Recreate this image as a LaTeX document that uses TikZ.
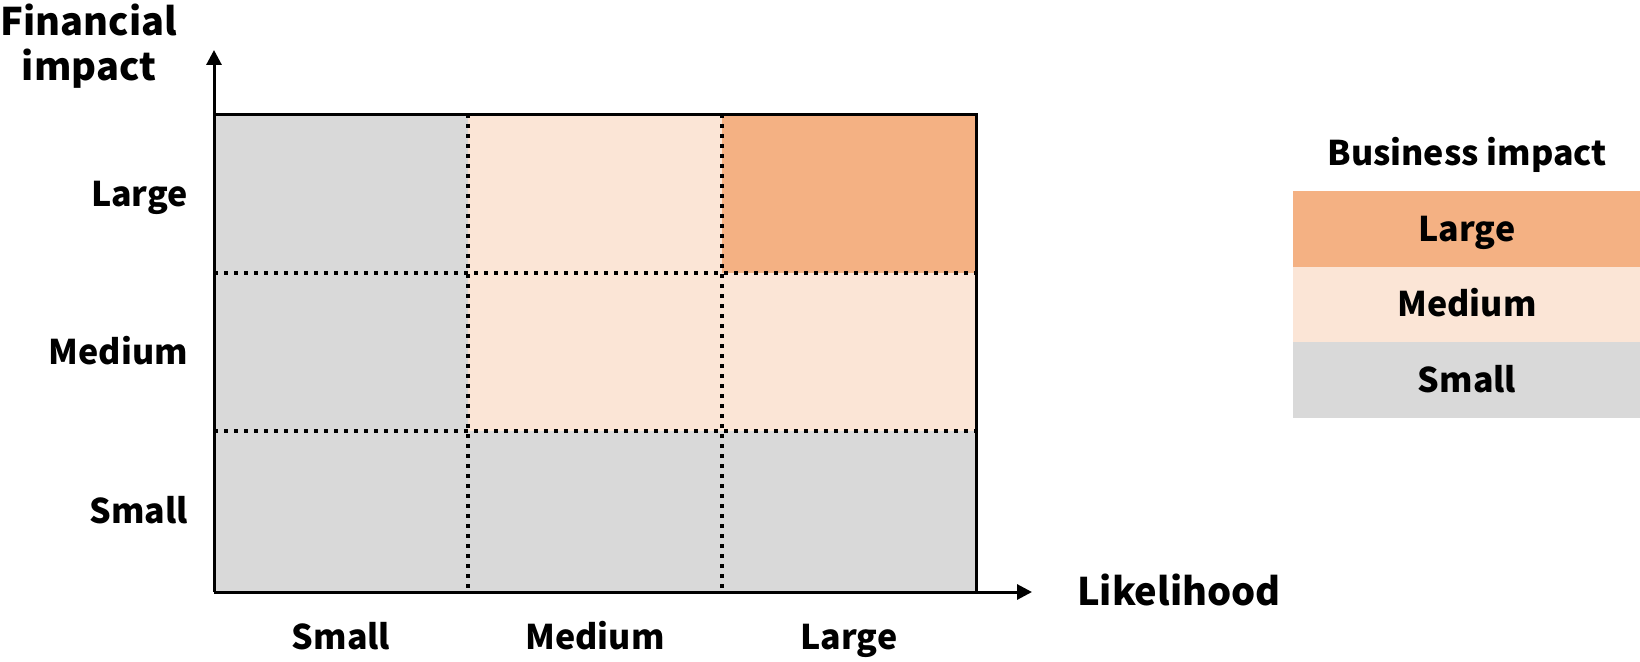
\documentclass[tikz,border=0pt]{standalone}
\usepackage{fontspec}
\setmainfont{Noto Sans CJK JP}
\usetikzlibrary{arrows.meta}
\definecolor{cgray}{HTML}{D9D9D9}
\definecolor{cpeach}{HTML}{FBE5D6}
\definecolor{corange}{HTML}{F4B183}
\tikzset{
  lbl/.style={inner sep=0pt, font=\fontsize{34}{38}\selectfont\bfseries},
  ttl/.style={inner sep=0pt, font=\fontsize{38}{42}\selectfont\bfseries},
  gridline/.style={line width=4pt, dash pattern=on 4.3pt off 5.7pt},
  axis/.style={line width=3pt, -{Triangle[length=15pt,width=15pt]}},
  frame/.style={line width=3pt}
}
\begin{document}
\begin{tikzpicture}[x=1pt,y=-1pt]
\useasboundingbox (0,0) rectangle (1640,661);
% cells
\fill[cgray] (214,114) rectangle (976,592);
\fill[cpeach] (468,114) rectangle (722,431);
\fill[cpeach] (722,273) rectangle (976,431);
\fill[corange] (722,114) rectangle (976,273);
% grid
\coordinate (c1t) at (468,114); \coordinate (c1b) at (468,592);
\coordinate (c2t) at (722,114); \coordinate (c2b) at (722,592);
\coordinate (r1l) at (214,273); \coordinate (r1r) at (976,273);
\coordinate (r2l) at (214,431); \coordinate (r2r) at (976,431);
\draw[gridline] (c1t) -- (c1b);
\draw[gridline] (c2t) -- (c2b);
\draw[gridline] (r1l) -- (r1r);
\draw[gridline] (r2l) -- (r2r);
% frame
\coordinate (O) at (214,592);
\coordinate (tl) at (214,114);
\coordinate (tr) at (976,114);
\coordinate (br) at (976,592);
\draw[frame] (tl) -- (tr) -- (br);
% axes
\coordinate (ytip) at (214,50);
\coordinate (xtip) at (1032,592);
\draw[axis] (O) -- (ytip);
\draw[axis] (O) -- (xtip);
% axis titles
\node[ttl, anchor=base] (fin1) at (89,36) {Financial};
\node[ttl, anchor=base] (fin2) at (89,80) {impact};
\node[ttl, anchor=base west] (lik) at (1077,605) {Likelihood};
% row labels
\node[lbl, anchor=base east] (yl) at (188,206) {Large};
\node[lbl, anchor=base east] (ym) at (188,364) {Medium};
\node[lbl, anchor=base east] (ys) at (188,523) {Small};
% column labels
\node[lbl, anchor=base] (xs) at (341,649) {Small};
\node[lbl, anchor=base] (xm) at (595,649) {Medium};
\node[lbl, anchor=base] (xl) at (849,649) {Large};
% legend
\fill[corange] (1293,191) rectangle (1640,267);
\fill[cpeach] (1293,267) rectangle (1640,342);
\fill[cgray] (1293,342) rectangle (1640,418);
\node[lbl, anchor=base] (lt) at (1467,165) {Business impact};
\node[lbl, anchor=base] (ll) at (1467,241) {Large};
\node[lbl, anchor=base] (lm) at (1467,316) {Medium};
\node[lbl, anchor=base] (ls) at (1467,392) {Small};
\end{tikzpicture}
\end{document}
